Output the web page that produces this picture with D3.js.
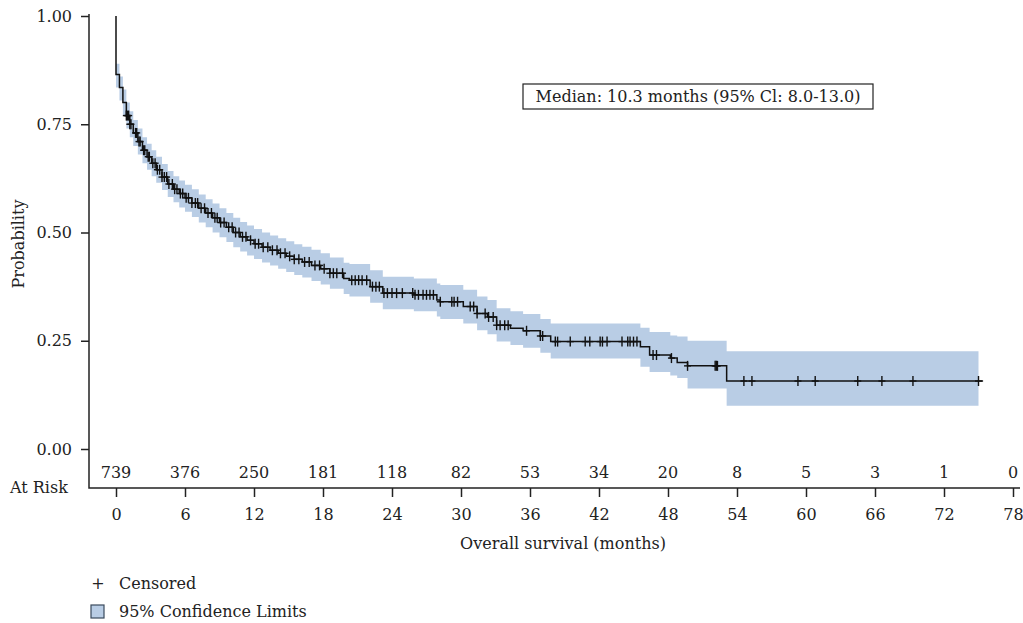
<!DOCTYPE html>
<html>
<head>
    <meta charset="utf-8">
    <script src="https://cdnjs.cloudflare.com/ajax/libs/d3/7.8.5/d3.min.js"></script>
    <style>
        body { margin: 0; background: #fff; }
        svg text { font-family: 'DejaVu Serif', serif; fill: #222; }
    </style>
</head>
<body>
<svg id="chart" width="1023" height="623"></svg>
<script>
// KM step data (time in months, survival after the step, 95% limits)
var times = [0, 0.3, 0.6, 0.9, 1.2, 1.5, 1.9, 2.3, 2.7, 3.1, 3.5, 4.0, 4.5, 5.0, 5.5, 6.0, 6.6, 7.2, 7.8, 8.4,
             9.0, 9.6, 10.2, 10.8, 11.4, 12.0, 12.7, 13.4, 14.1, 14.8, 15.5, 16.2, 17.0, 17.8, 18.6, 19.8, 20.3, 22.1, 23.2, 25.9,
             27.9, 28.2, 30.2, 31.4, 32.3, 33.1, 34.3, 35.4, 36.9, 37.8, 45.6, 46.4, 48.2, 48.8, 49.7, 53.1];
var surv = [0.865, 0.835, 0.80, 0.77, 0.75, 0.73, 0.71, 0.69, 0.675, 0.66, 0.645, 0.628, 0.612, 0.60, 0.59, 0.58, 0.568, 0.556, 0.545, 0.534,
            0.523, 0.512, 0.50, 0.49, 0.482, 0.474, 0.466, 0.459, 0.452, 0.445, 0.438, 0.432, 0.424, 0.416, 0.406, 0.394, 0.39, 0.375, 0.36, 0.356,
            0.344, 0.34, 0.329, 0.313, 0.305, 0.286, 0.279, 0.273, 0.261, 0.248, 0.236, 0.217, 0.21, 0.20, 0.192, 0.157];
var lower = [0.835, 0.805, 0.77, 0.74, 0.72, 0.70, 0.68, 0.66, 0.645, 0.63, 0.615, 0.598, 0.582, 0.57, 0.558, 0.548, 0.536, 0.523, 0.512, 0.50,
             0.489, 0.478, 0.466, 0.456, 0.447, 0.439, 0.431, 0.424, 0.416, 0.409, 0.402, 0.396, 0.388, 0.380, 0.37, 0.358, 0.352, 0.338, 0.323, 0.318,
             0.306, 0.30, 0.29, 0.274, 0.265, 0.248, 0.24, 0.234, 0.222, 0.209, 0.19, 0.178, 0.17, 0.164, 0.14, 0.10];
var upper = [0.89, 0.86, 0.83, 0.80, 0.78, 0.76, 0.74, 0.72, 0.705, 0.69, 0.675, 0.658, 0.642, 0.63, 0.62, 0.61, 0.60, 0.588, 0.577, 0.567,
             0.556, 0.545, 0.534, 0.524, 0.516, 0.508, 0.50, 0.493, 0.487, 0.48, 0.473, 0.467, 0.46, 0.452, 0.442, 0.43, 0.427, 0.413, 0.398, 0.394,
             0.382, 0.379, 0.368, 0.352, 0.344, 0.325, 0.318, 0.312, 0.30, 0.29, 0.28, 0.27, 0.262, 0.26, 0.25, 0.226];
var lineEnd = 75.4, bandEnd = 75.0;

var censored = [0.9, 1.0, 1.1, 1.2, 1.3, 1.7, 1.8, 2.0, 2.1, 2.4, 2.5, 2.8, 2.9, 3.2, 3.4, 3.6, 3.8, 4.0, 4.2, 4.4,
                4.6, 4.9, 5.1, 5.3, 5.6, 5.8, 6.1, 6.3, 6.6, 6.9, 7.1, 7.4, 7.7, 8.0, 8.3, 8.6, 8.8, 9.1, 9.4, 9.8,
                10.1, 10.4, 10.7, 11.0, 11.3, 11.7, 12.1, 12.4, 12.8, 13.2, 13.6, 14.0, 14.3, 14.7, 15.1, 15.5, 15.9, 16.4, 16.8, 17.3,
                17.7, 18.1, 18.6, 18.9, 19.2, 19.7, 20.5, 20.8, 21.1, 21.4, 21.8, 22.3, 22.6, 22.9, 23.3, 23.6, 24.0, 24.4, 24.9, 25.8,
                26.0, 26.3, 26.7, 27.0, 27.3, 27.6, 28.2, 29.2, 29.4, 29.7, 30.8, 31.1, 31.4, 32.1, 32.4, 32.8, 33.1, 33.4, 33.8, 34.1,
                35.7, 36.9, 37.1, 38.2, 38.4, 39.5, 40.8, 41.2, 42.1, 42.3, 42.7, 44.0, 44.5, 44.7, 45.0, 45.3, 46.7, 47.0, 48.3, 49.7,
                52.1, 52.2, 52.3, 54.6, 55.3, 59.3, 60.8, 64.5, 66.6, 69.3, 75.0];

var xTicks = [0, 6, 12, 18, 24, 30, 36, 42, 48, 54, 60, 66, 72, 78];
var atRisk = [739, 376, 250, 181, 118, 82, 53, 34, 20, 8, 5, 3, 1, 0];
var yTicks = [0, 0.25, 0.5, 0.75, 1];

var svg = d3.select("#chart");
var x = d3.scaleLinear().domain([0, 78]).range([116, 1013]);
var y = d3.scaleLinear().domain([0, 1]).range([449, 16]);
var axisY = 488, axisX = 89;
var fs = "16px";

// confidence band
var band = times.map(function (t, i) { return {t: t, lo: lower[i], hi: upper[i]}; });
band.push({t: bandEnd, lo: lower[lower.length - 1], hi: upper[upper.length - 1]});
svg.append("path")
    .datum(band)
    .attr("fill", "#b9cde5")
    .attr("d", d3.area().curve(d3.curveStepAfter)
        .x(function (d) { return x(d.t); })
        .y0(function (d) { return y(d.lo); })
        .y1(function (d) { return y(d.hi); }));

// survival curve
var pts = [{t: 0, s: 1}].concat(times.map(function (t, i) { return {t: t, s: surv[i]}; }));
pts.push({t: lineEnd, s: surv[surv.length - 1]});
svg.append("path")
    .datum(pts)
    .attr("fill", "none")
    .attr("stroke", "#111")
    .attr("stroke-width", 1.5)
    .attr("d", d3.line().curve(d3.curveStepAfter)
        .x(function (d) { return x(d.t); })
        .y(function (d) { return y(d.s); }));

function survAt(t) {
    var i = d3.bisectRight(times, t) - 1;
    return i < 0 ? 1 : surv[i];
}

// censor marks
var cg = svg.append("g").attr("stroke", "#111").attr("stroke-width", 1.4);
censored.forEach(function (t) {
    var cx = x(t), cy = y(survAt(t));
    cg.append("line").attr("x1", cx).attr("x2", cx).attr("y1", cy - 5).attr("y2", cy + 5);
    cg.append("line").attr("x1", cx - 3.5).attr("x2", cx + 3.5).attr("y1", cy).attr("y2", cy);
});

// axes
var yAxis = svg.append("g")
    .attr("transform", "translate(" + axisX + ",0)")
    .call(d3.axisLeft(y).tickValues(yTicks).tickFormat(d3.format(".2f")).tickSize(8).tickPadding(9));
var xAxis = svg.append("g")
    .attr("transform", "translate(0," + axisY + ")")
    .call(d3.axisBottom(x).tickValues(xTicks).tickSize(9).tickPadding(12));
[yAxis, xAxis].forEach(function (g) {
    g.select(".domain").remove();
    g.selectAll(".tick line").attr("stroke", "#222").attr("stroke-width", 1.5);
    g.selectAll(".tick text").style("font-family", "'DejaVu Serif', serif").style("font-size", fs).attr("fill", "#222");
});
svg.append("path")
    .attr("d", "M" + axisX + ",14V" + axisY + "H1020")
    .attr("fill", "none")
    .attr("stroke", "#222")
    .attr("stroke-width", 1.5);

// at-risk row
svg.append("g").selectAll("text")
    .data(atRisk)
    .join("text")
    .attr("x", function (d, i) { return x(xTicks[i]); })
    .attr("y", 478)
    .attr("text-anchor", "middle")
    .style("font-size", fs)
    .text(function (d) { return d; });
svg.append("text").attr("x", 10).attr("y", 493).style("font-size", fs).text("At Risk");

// axis titles
svg.append("text")
    .attr("x", 563).attr("y", 549)
    .attr("text-anchor", "middle")
    .style("font-size", fs)
    .text("Overall survival (months)");
svg.append("text")
    .attr("transform", "translate(24,244) rotate(-90)")
    .attr("text-anchor", "middle")
    .style("font-size", fs)
    .text("Probability");

// median box
svg.append("rect")
    .attr("x", 523).attr("y", 84).attr("width", 350).attr("height", 25)
    .attr("fill", "#fff").attr("stroke", "#222").attr("stroke-width", 1.2);
svg.append("text")
    .attr("x", 698).attr("y", 102)
    .attr("text-anchor", "middle")
    .style("font-size", fs)
    .text("Median: 10.3 months (95% Cl: 8.0-13.0)");

// legend
svg.append("text").attr("x", 98).attr("y", 589).attr("text-anchor", "middle").style("font-size", fs).text("+");
svg.append("text").attr("x", 119).attr("y", 589).style("font-size", fs).text("Censored");
svg.append("rect").attr("x", 91).attr("y", 605).attr("width", 13).attr("height", 13)
    .attr("fill", "#b9cde5").attr("stroke", "#3a4a5c").attr("stroke-width", 1.2);
svg.append("text").attr("x", 119).attr("y", 617).style("font-size", fs).text("95% Confidence Limits");
</script>
</body>
</html>
